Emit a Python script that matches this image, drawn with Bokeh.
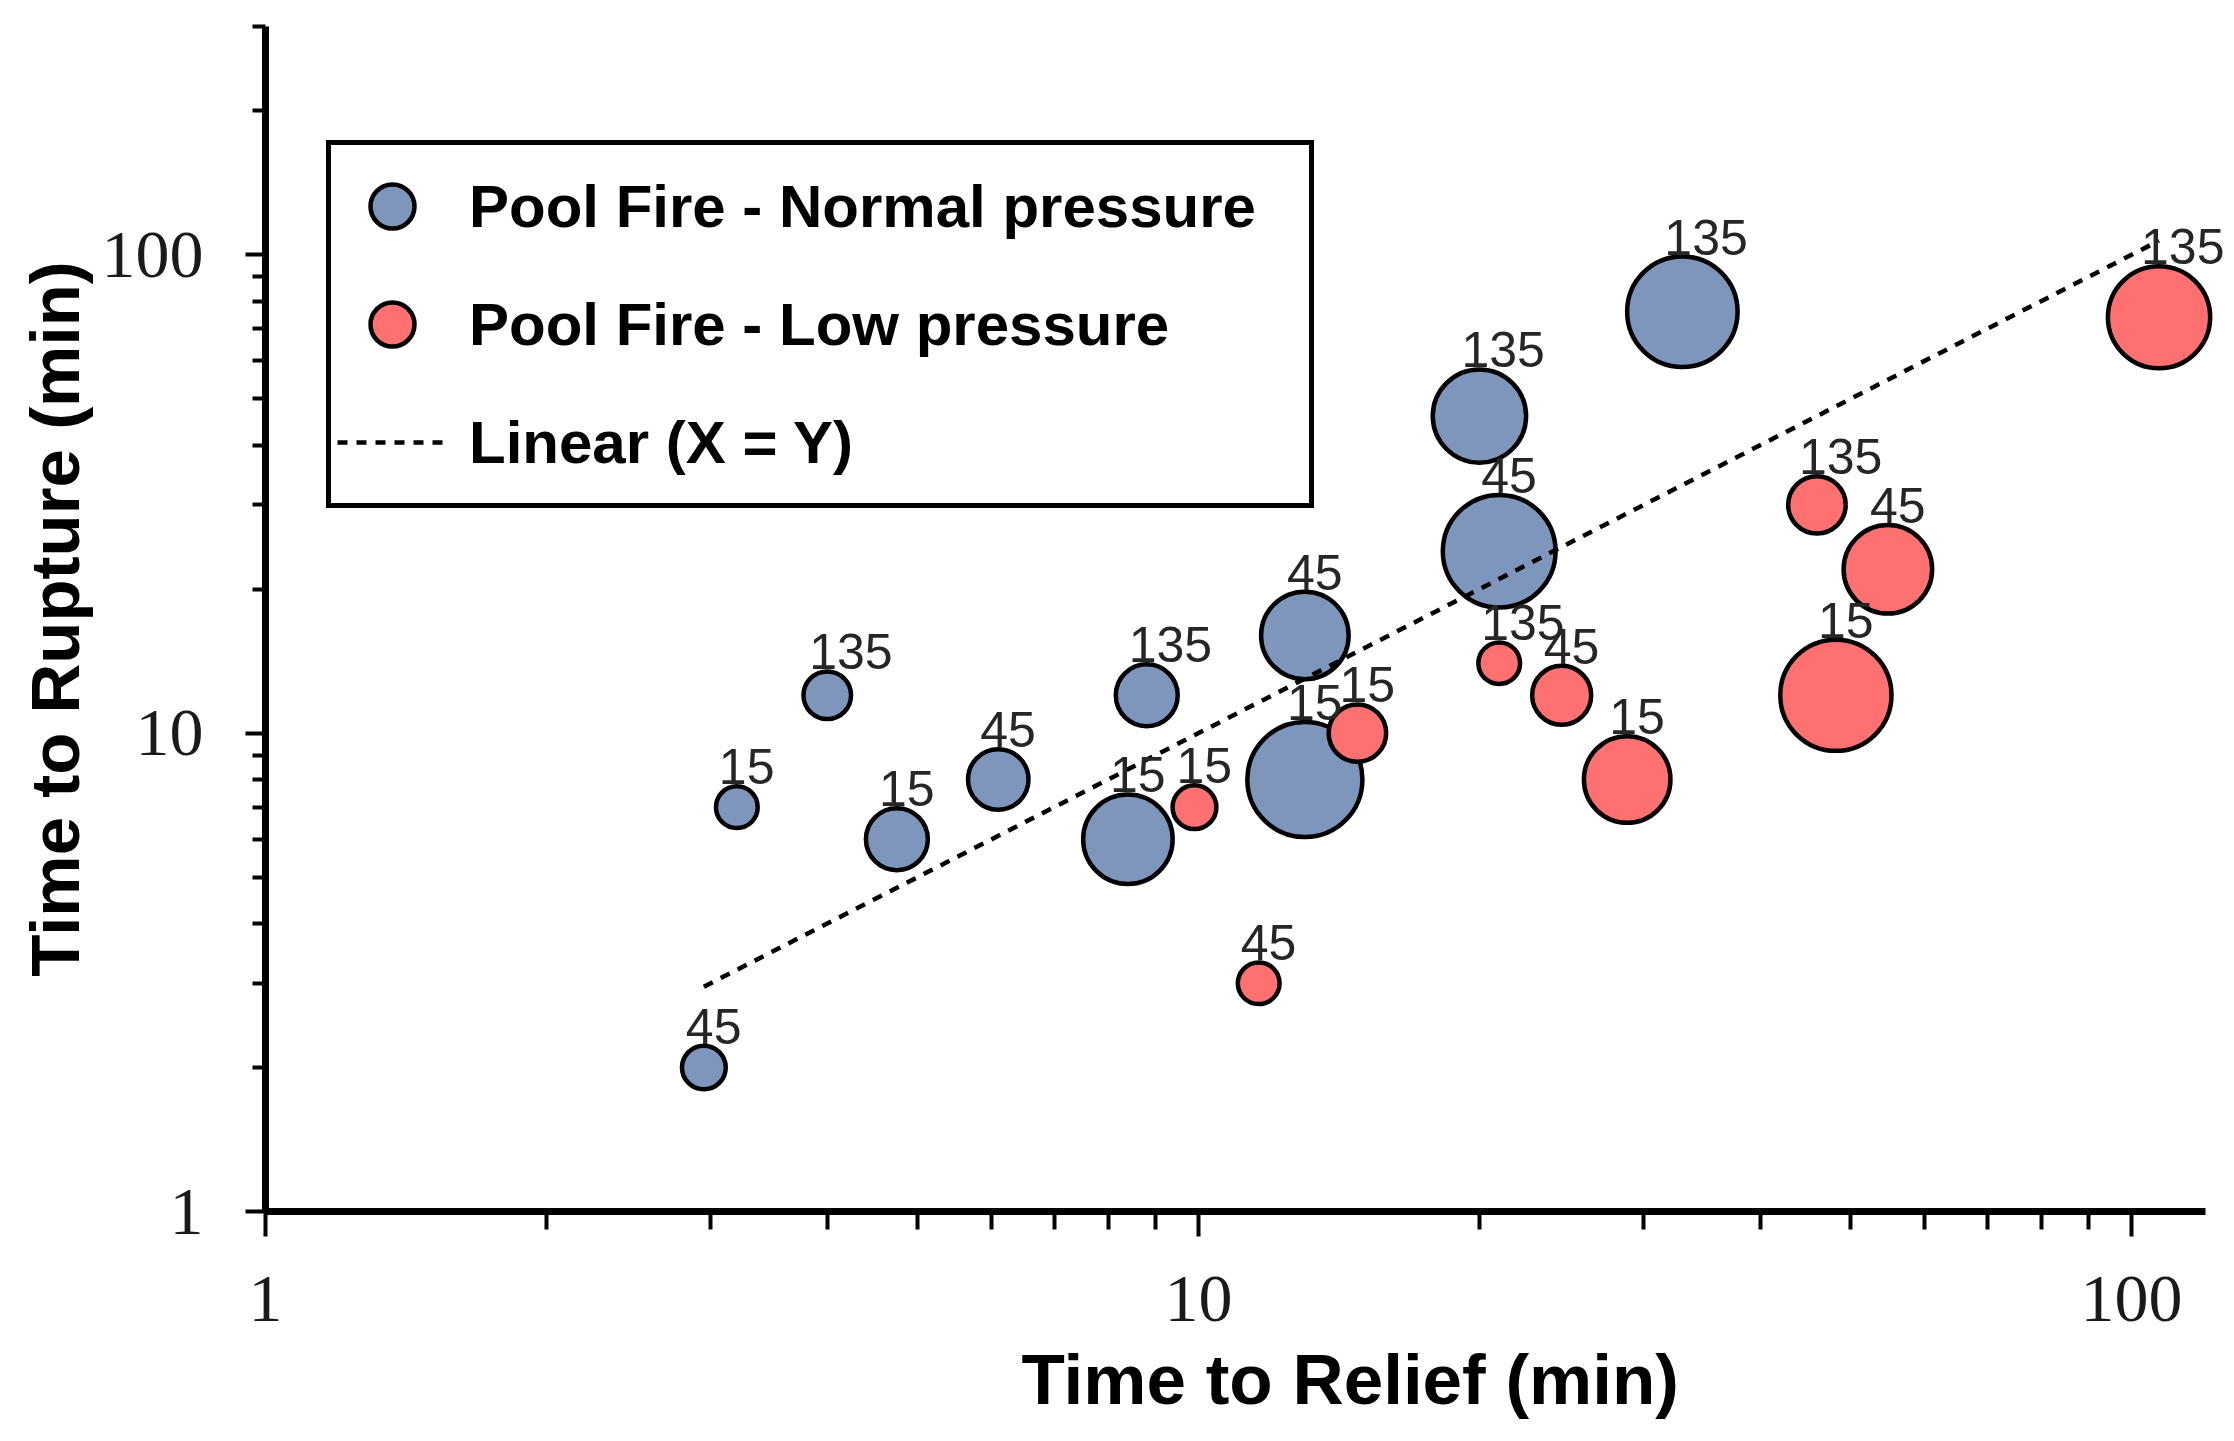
import math
from bokeh.plotting import figure
from bokeh.models import (ColumnDataSource, FixedTicker, Legend, LegendItem, Title,
                          Range1d, BasicTickFormatter, LabelSet)
from bokeh.embed import file_html
from bokeh.resources import INLINE
from bokeh.core.properties import value

# ---------------- data ----------------
normal_relief = [2.95, 3.2, 4.0, 4.75, 6.1, 8.4, 8.8, 13.0, 13.0, 20.0, 21.0, 33.0]
normal_rupture = [2.0, 7.0, 12.0, 6.0, 8.0, 6.0, 12.0, 16.0, 8.0, 46.0, 24.0, 76.0]
normal_bubble = [11, 10, 13, 22, 21, 46, 22, 44, 76, 50, 73, 70]
normal_label = ["45", "15", "135", "15", "45", "15", "135", "45", "15", "135", "45", "135"]

low_relief = [11.6, 9.9, 14.8, 21.0, 24.5, 28.8, 46.0, 54.8, 48.2, 107.0]
low_rupture = [3.0, 7.0, 10.0, 14.0, 12.0, 8.0, 30.0, 22.0, 12.0, 74.0]
low_bubble = [10, 11, 19, 10, 20, 43, 19, 45, 71, 60]
low_label = ["45", "15", "15", "135", "45", "15", "135", "45", "15", "135"]

x_axis_min, x_axis_max = 1, 120
y_axis_min, y_axis_max = 1, 300
x_ticks = [1, 10, 100]
x_tick_labels = ["1", "10", "100"]
x_minor_ticks = [2, 3, 4, 5, 6, 7, 8, 9, 20, 30, 40, 50, 60, 70, 80, 90]
y_ticks = [1, 10, 100]
y_tick_labels = ["1", "10", "100"]
y_minor_ticks = [2, 3, 4, 5, 6, 7, 8, 9, 20, 30, 40, 50, 60, 70, 80, 90, 200, 300]

series_names = ["Pool Fire - Normal pressure", "Pool Fire - Low pressure", "Linear (X = Y)"]
x_title = "Time to Relief (min)"
y_title = "Time to Rupture (min)"

# ---------------- styling ----------------
BLUE = "#7E96BB"
RED = "#FF7070"
SIZE_SCALE = 13.2   # px of diameter per sqrt(bubble value)
FRAME_LEFT = 265
FRAME_W_AXIS = 1940   # pixel length of the drawn x axis (1 .. 120)
FIG_W = 2234
# the plotting frame runs to the right page edge (so edge labels are not clipped),
# while the x axis itself is bounded to 1..120
frame_w = FIG_W - FRAME_LEFT
x_view_max = 10 ** (math.log10(x_axis_max) * frame_w / FRAME_W_AXIS)


def make_source(xs, ys, vs, labels):
    d = [SIZE_SCALE * math.sqrt(v) for v in vs]
    return ColumnDataSource(dict(
        x=xs, y=ys, d=d, label=labels,
        dy=[di / 2.0 + 2.0 for di in d],
    ))


src_n = make_source(normal_relief, normal_rupture, normal_bubble, normal_label)
src_l = make_source(low_relief, low_rupture, low_bubble, low_label)

all_x = normal_relief + low_relief
line_x = [min(all_x), max(all_x)]
line_y = list(line_x)   # X = Y

p = figure(width=FIG_W, height=1433,
           x_axis_type="log", y_axis_type="log",
           x_range=Range1d(x_axis_min, x_view_max), y_range=Range1d(y_axis_min, y_axis_max),
           output_backend="svg", toolbar_location=None,
           min_border_left=FRAME_LEFT, min_border_right=0,
           min_border_top=26, min_border_bottom=221)
p.xgrid.visible = False
p.ygrid.visible = False
p.outline_line_color = None
p.background_fill_color = "white"
p.border_fill_color = "white"

r_n = p.scatter("x", "y", size="d", source=src_n, fill_color=BLUE,
                line_color="black", line_width=4.5)
r_l = p.scatter("x", "y", size="d", source=src_l, fill_color=RED,
                line_color="black", line_width=4.5)
r_line = p.line(line_x, line_y, line_color="black", line_width=4.5, line_dash="10 9")

for src in (src_n, src_l):
    p.add_layout(LabelSet(x="x", y="y", text="label", source=src,
                          x_offset=-18, y_offset="dy",
                          text_align="left", text_baseline="alphabetic",
                          text_font=value("Liberation Sans"), text_font_size="50px",
                          text_color="#262626"))

# axes
for ax, ticks, minors, labels in ((p.xaxis[0], x_ticks, x_minor_ticks, x_tick_labels),
                                  (p.yaxis[0], y_ticks, y_minor_ticks, y_tick_labels)):
    ax.ticker = FixedTicker(ticks=ticks, minor_ticks=minors)
    ax.formatter = BasicTickFormatter()
    ax.major_label_overrides = {t: l for t, l in zip(ticks, labels)}
    ax.axis_line_width = 7
    ax.axis_line_color = "black"
    ax.major_tick_line_width = 4
    ax.minor_tick_line_width = 4
    ax.major_tick_line_color = "black"
    ax.minor_tick_line_color = "black"
    ax.major_tick_in = 0
    ax.minor_tick_in = 0
    ax.major_label_text_font = "Liberation Serif"
    ax.major_label_text_font_size = "68px"
    ax.major_label_text_color = "#1a1a1a"

p.xaxis.bounds = (x_axis_min, x_axis_max)
p.xaxis.major_tick_out = 25
p.xaxis.minor_tick_out = 18
p.xaxis.major_label_standoff = 40
p.yaxis.major_tick_out = 20
p.yaxis.minor_tick_out = 13
p.yaxis.major_label_standoff = 42

p.yaxis.axis_label = y_title
p.yaxis.axis_label_text_font = "Liberation Sans"
p.yaxis.axis_label_text_font_style = "bold"
p.yaxis.axis_label_text_font_size = "69px"
p.yaxis.axis_label_text_color = "black"
p.yaxis.axis_label_standoff = 5

p.add_layout(Title(text=x_title, align="left", offset=756,
                   text_font="Liberation Sans", text_font_style="bold",
                   text_font_size="71px", text_color="black", standoff=29),
             "below")

legend = Legend(items=[LegendItem(label=series_names[0], renderers=[r_n]),
                       LegendItem(label=series_names[1], renderers=[r_l]),
                       LegendItem(label=series_names[2], renderers=[r_line])],
                location=(61, 703), orientation="vertical",
                glyph_width=110, glyph_height=110, label_height=110,
                label_width=834, label_standoff=22, padding=6, spacing=8,
                margin=0,
                label_text_font="Liberation Sans", label_text_font_style="bold",
                label_text_font_size="60px", label_text_color="black",
                border_line_color="black", border_line_width=5, border_line_alpha=1.0,
                background_fill_color="white", background_fill_alpha=1.0)
p.add_layout(legend)

open("out.html", "w").write(file_html(p, INLINE))
